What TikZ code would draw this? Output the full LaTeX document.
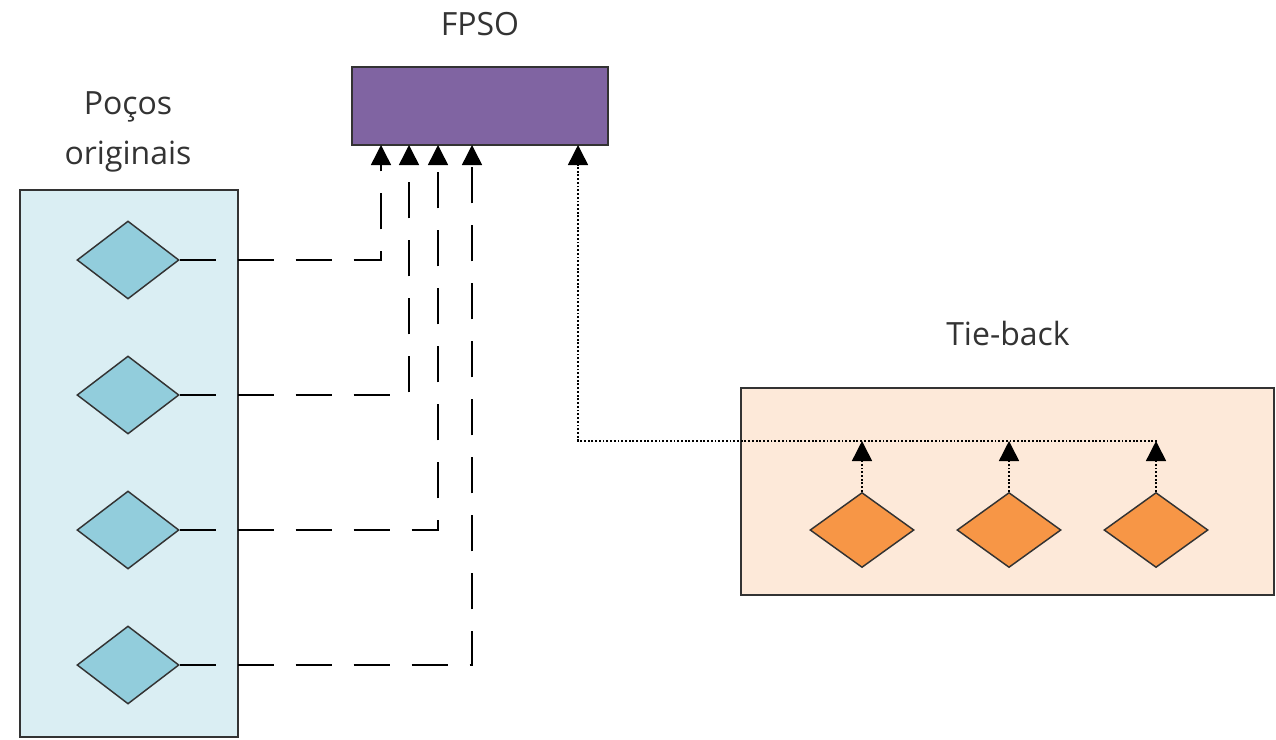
\documentclass[tikz,border=0pt]{standalone}
\usepackage{fontspec}
\setmainfont{Open Sans}
\usetikzlibrary{arrows.meta,shapes.geometric}
\definecolor{boxblue}{HTML}{DAEEF3}
\definecolor{diablue}{HTML}{92CDDC}
\definecolor{fpsopurple}{HTML}{8064A2}
\definecolor{boxpeach}{HTML}{FDE9D9}
\definecolor{diaorange}{HTML}{F79646}
\definecolor{edge}{HTML}{333333}
\begin{document}
\begin{tikzpicture}[x=0.75pt,y=-0.75pt,
  container/.style={draw=edge,line width=1.3pt,rectangle,inner sep=0pt},
  wellL/.style={diamond,draw=edge,line width=1.1pt,fill=diablue,inner sep=0pt,minimum width=76.5pt,minimum height=58.5pt},
  wellR/.style={diamond,draw=edge,line width=1.1pt,fill=diaorange,inner sep=0pt,minimum width=78pt,minimum height=56.25pt},
  lbl/.style={font=\fontsize{24pt}{37.5pt}\selectfont,text=black!80,align=center},
  tip/.style={-{Triangle[width=15pt,length=15pt,fill=black]}},
  dashline/.style={draw=black,line width=1.1pt,dash pattern=on 27pt off 16.5pt,tip},
  dotline/.style={draw=black,line width=1.1pt,dash pattern=on 1.4pt off 1.4pt,tip}]
\useasboundingbox (0,0) rectangle (1276,739);

% containers
\node[container,fill=boxblue,minimum width=163.5pt,minimum height=410.25pt] (left) at (129,463.5) {};
\node[container,fill=fpsopurple,minimum width=192pt,minimum height=58.5pt] (fpso) at (480,106) {};
\node[container,fill=boxpeach,minimum width=399.75pt,minimum height=155.25pt] (tie) at (1007.5,491.5) {};

% labels
\node[lbl] (lfpso) at (480,24) {FPSO};
\node[lbl] (ltie) at (1008,333) {Tie-back};
\node[lbl] (lpocos) at (128,132) {Poços\\originais};

% left wells
\node[wellL] (d1) at (128,260) {};
\node[wellL] (d2) at (128,395) {};
\node[wellL] (d3) at (128,530) {};
\node[wellL] (d4) at (128,665) {};

% right wells
\node[wellR] (o1) at (862,530) {};
\node[wellR] (o2) at (1009,530) {};
\node[wellR] (o3) at (1156,530) {};

% FPSO inlet points
\coordinate (a1) at (381,145);
\coordinate (a2) at (409,145);
\coordinate (a3) at (438,145);
\coordinate (a4) at (472,145);
\coordinate (a5) at (578,145);
\coordinate (hline) at (0,441);
\coordinate (hend) at (1157,441);

% dashed connectors
\draw[dashline] (d1.east) -| (a1);
\draw[dashline] (d2.east) -| (a2);
\draw[dashline] (d3.east) -| (a3);
\draw[dashline] (d4.east) -| (a4);

% dotted connectors
\draw[dotline] (hend) -| (a5);
\draw[dotline] (o1.north) -- (o1.north |- hline);
\draw[dotline] (o2.north) -- (o2.north |- hline);
\draw[dotline] (o3.north) -- (o3.north |- hline);
\end{tikzpicture}
\end{document}
